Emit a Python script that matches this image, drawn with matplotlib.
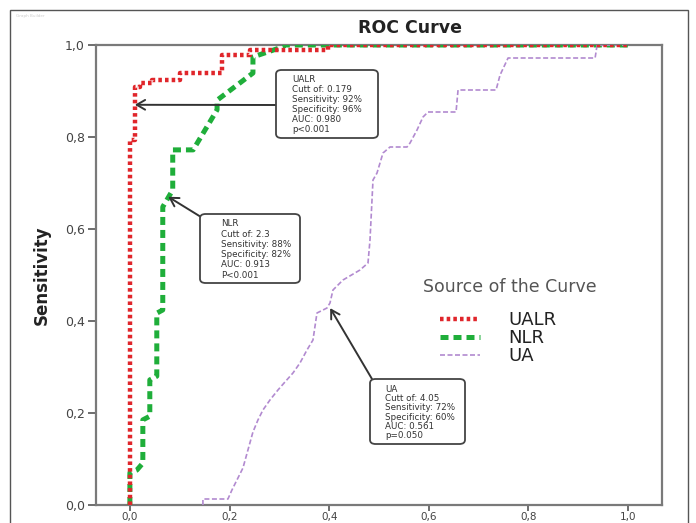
import matplotlib
matplotlib.use("Agg")
import matplotlib.pyplot as plt
from matplotlib.patches import Rectangle, FancyBboxPatch

# ---- data ----
ualr_fpr = [0.0, 0.0, 0.010, 0.010, 0.020, 0.020, 0.044, 0.044, 0.100, 0.100, 0.185, 0.185, 0.241, 0.241, 0.398, 0.398, 1.0]
ualr_tpr = [0.0, 0.793, 0.793, 0.909, 0.909, 0.917, 0.917, 0.924, 0.924, 0.939, 0.939, 0.978, 0.978, 0.989, 0.989, 1.0, 1.0]

nlr_fpr = [0.0, 0.0, 0.014, 0.026, 0.026, 0.040, 0.040, 0.054, 0.054, 0.066, 0.066, 0.086, 0.086, 0.127, 0.175, 0.175, 0.247, 0.247, 0.307, 0.31, 1.0]
nlr_tpr = [0.0, 0.070, 0.076, 0.091, 0.185, 0.193, 0.272, 0.280, 0.417, 0.424, 0.648, 0.685, 0.772, 0.772, 0.859, 0.880, 0.939, 0.974, 0.996, 1.0, 1.0]

ua_px = [203, 203, 228, 232, 238, 243, 248, 253, 258, 263, 270, 278, 285, 293, 300, 307, 313, 317, 327, 330, 333, 343, 360, 368, 370, 372, 373, 377, 383, 390, 407, 410, 417, 423, 428, 456, 458, 496, 500, 508, 595, 597, 628]
ua_py = [505, 499, 499, 490, 478, 468, 450, 432, 420, 410, 400, 390, 382, 373, 363, 350, 340, 313, 308, 303, 290, 280, 270, 263, 240, 200, 180, 173, 153, 147, 147, 143, 130, 117, 112, 112, 90, 90, 75, 58, 58, 45, 45]
ua_fpr = [(p - 130) / 498 for p in ua_px]
ua_tpr = [(505 - p) / 460 for p in ua_py]

series_names = ["UALR", "NLR", "UA"]
tick_vals = [0.0, 0.2, 0.4, 0.6, 0.8, 1.0]
tick_labels = ["0,0", "0,2", "0,4", "0,6", "0,8", "1,0"]

box_texts = [
    ("UALR", "Cutt of: 0.179", "Sensitivity: 92%", "Specificity: 96%", "AUC: 0.980", "p<0.001"),
    ("NLR", "Cutt of: 2.3", "Sensitivity: 88%", "Specificity: 82%", "AUC: 0.913", "P<0.001"),
    ("UA", "Cutt of: 4.05", "Sensitivity: 72%", "Specificity: 60%", "AUC: 0.561", "p=0.050"),
]
arrow_targets = [(0.010, 0.870), (0.077, 0.670), (0.402, 0.428)]

# ---- figure ----
W, H = 696, 523
fig = plt.figure(figsize=(W / 100, H / 100), dpi=100)
fig.patch.set_facecolor("white")

# outer frame
fig.patches.append(Rectangle((10 / W, -0.05), (688 - 10) / W, 1.05 - 10 / H,
                             transform=fig.transFigure, fill=False,
                             edgecolor="#555555", lw=1.0))
fig.text(16 / W, 1 - 16 / H, "Graph Builder", fontsize=3, color="#cccccc", va="center")

ax = fig.add_axes([96 / W, (H - 505) / H, (662 - 96) / W, (505 - 45) / H])
ax.set_xlim(-0.068, 1.068)
ax.set_ylim(0, 1)

ax.plot(ualr_fpr, ualr_tpr, color="#e0262b", lw=3.2, linestyle=(0, (0.8, 0.7)), label=series_names[0], zorder=4)
ax.plot(nlr_fpr, nlr_tpr, color="#1fae3a", lw=3.6, linestyle=(0, (1.6, 1.0)), label=series_names[1], zorder=3)
ax.plot(ua_fpr, ua_tpr, color="#b28ad0", lw=1.2, linestyle=(0, (3, 1.5)), label=series_names[2], zorder=3)

for s in ax.spines.values():
    s.set_color("#7a7a7a")
    s.set_linewidth(1.6)
ax.set_xticks(tick_vals)
ax.set_xticklabels(tick_labels)
ax.set_yticks(tick_vals)
ax.set_yticklabels(tick_labels)
ax.tick_params(axis="both", direction="out", length=6, width=1.2, color="#555555",
               labelsize=9, labelcolor="#444444", pad=2)
ax.tick_params(axis="x", length=4, labelsize=7.5, pad=1)
ax.set_ylabel("Sensitivity", fontsize=12, fontweight="bold", labelpad=10, color="#222222")

fig.text(410 / W, 1 - 28 / H, "ROC Curve", fontsize=12.5, fontweight="bold",
         ha="center", va="center", color="#222222")

# annotation boxes (pixel rects -> figure coords)
boxes = [(276, 70, 378, 138), (200, 214, 300, 283), (370, 379, 465, 444)]
text_offsets = [16, 21, 15]
arrow_starts = [(276, 105), (201, 217), (372, 379)]
for (x0, y0, x1, y1), lines, off, start, tgt in zip(boxes, box_texts, text_offsets, arrow_starts, arrow_targets):
    fb = FancyBboxPatch((x0 / W, 1 - y1 / H), (x1 - x0) / W, (y1 - y0) / H,
                        boxstyle="round,pad=0,rounding_size=0.008",
                        transform=fig.transFigure, facecolor="white",
                        edgecolor="#444444", lw=1.3, zorder=5)
    fig.patches.append(fb)
    n = len(lines)
    top = y0 + 10
    step = (y1 - y0 - 18) / (n - 1)
    for i, ln in enumerate(lines):
        fig.text((x0 + off) / W, 1 - (top + i * step) / H, ln, fontsize=6.3,
                 color="#333333", va="center", ha="left", zorder=6)
    ax.annotate("", xy=tgt, xycoords="data",
                xytext=(start[0] / W, 1 - start[1] / H), textcoords="figure fraction",
                arrowprops=dict(arrowstyle="->,head_length=0.6,head_width=0.35",
                                color="#333333", lw=1.4, shrinkA=0, shrinkB=0),
                zorder=6)

fig.text(510 / W, 1 - 287 / H, "Source of the Curve", fontsize=12.5,
         color="#555555", ha="center", va="center")
leg = ax.legend(loc="upper left", bbox_to_anchor=((440 - 96) / (662 - 96), (505 - 311) / 460),
                frameon=False, fontsize=13, handlelength=2.2, handletextpad=1.6,
                labelspacing=0.0, borderpad=0.0, borderaxespad=0.0)
for t in leg.get_texts():
    t.set_color("#222222")

fig.savefig("out.png", dpi=100)
